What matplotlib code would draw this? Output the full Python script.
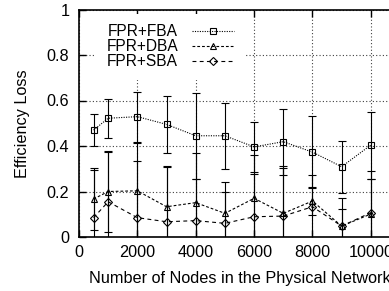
import matplotlib
matplotlib.use("Agg")
import matplotlib.pyplot as plt
from matplotlib.ticker import FormatStrFormatter

plt.rcParams['font.family'] = ['Liberation Sans', 'DejaVu Sans']
plt.rcParams['font.size'] = 11.7

# values
nodes = [500, 1000, 2000, 3000, 4000, 5000, 6000, 7000, 8000, 9000, 10000]
fba = [0.47, 0.522, 0.529, 0.495, 0.445, 0.445, 0.396, 0.419, 0.373, 0.309, 0.404]
fba_err = [0.07, 0.085, 0.11, 0.126, 0.19, 0.145, 0.11, 0.145, 0.157, 0.115, 0.147]
dba = [0.167, 0.2, 0.203, 0.133, 0.151, 0.104, 0.17, 0.104, 0.158, 0.048, 0.101]
dba_err = [0.135, 0.18, 0.21, 0.18, 0.217, 0.136, 0.19, 0.208, 0.06, 0.122, 0.19]
sba = [0.085, 0.155, 0.085, 0.067, 0.072, 0.06, 0.089, 0.092, 0.133, 0.048, 0.107]
sba_err = [0.21, 0.22, 0.25, 0.24, 0.183, 0.14, 0.19, 0.213, 0.14, 0.075, 0.15]

xticks = [0, 2000, 4000, 6000, 8000, 10000]
yticks = [0, 0.2, 0.4, 0.6, 0.8, 1.0]

fig = plt.figure(figsize=(3.89, 2.91), dpi=100)
# right part of the frame runs off the picture, like the original
ax = fig.add_axes([79/389, 54/291, 321/389, 227.5/291])

series = [
    ("FPR+FBA", fba, fba_err, "s", (0, (1, 1.2)), 4.6),
    ("FPR+DBA", dba, dba_err, "^", (0, (2.5, 1.8)), 4.6),
    ("FPR+SBA", sba, sba_err, "D", (0, (3.5, 3)), 3.8),
]
for name, vals, errs, mk, ls, ms in series:
    ax.errorbar(nodes, vals, yerr=errs, fmt="none", ecolor="black",
                elinewidth=0.8, capsize=2.6, capthick=0.8)
    ax.plot(nodes, vals, color="black", lw=0.8, linestyle=ls, marker=mk,
            markersize=ms, markerfacecolor="none", markeredgecolor="black",
            markeredgewidth=0.8, label=name)

ax.set_xlim(0, 11000)
ax.set_ylim(0, 1)
ax.set_xticks(xticks)
ax.set_yticks(yticks)
ax.yaxis.set_major_formatter(FormatStrFormatter("%g"))
ax.grid(True, color="0.25", linestyle=(0, (1, 2)), linewidth=0.8)
ax.tick_params(direction="in", top=True, right=True, length=5, width=1.0,
               labelsize=11.7)
ax.tick_params(axis="y", pad=7)
ax.tick_params(axis="x", pad=6)
for sp in ax.spines.values():
    sp.set_linewidth(1.2)

ax.set_xlabel("Number of Nodes in the Physical Network", fontsize=11.7, labelpad=8)
ax.set_ylabel("Efficiency Loss", fontsize=11.7, labelpad=12)

leg = ax.legend(loc="upper right",
                bbox_to_anchor=((245 - 79) / 321, 1.0 - 4 / 227.5),
                markerfirst=False, numpoints=1, handlelength=2.7,
                handletextpad=0.9, labelspacing=0.0, borderpad=0.7,
                borderaxespad=0.0, frameon=True, fancybox=False,
                framealpha=1.0, fontsize=11.2)
leg.get_frame().set_edgecolor("none")
leg.get_frame().set_facecolor("white")

fig.savefig("out.png", dpi=100)
